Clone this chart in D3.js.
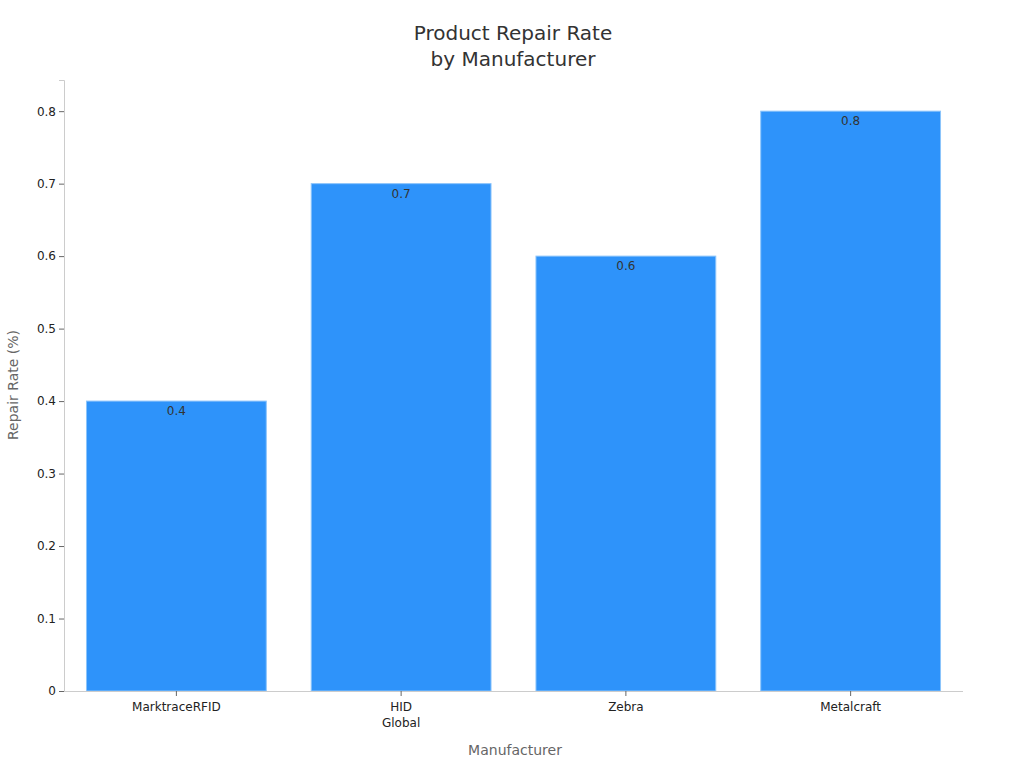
<!DOCTYPE html>
<html><head><meta charset="utf-8">
<script src="https://cdn.jsdelivr.net/npm/d3@7"></script>
<style>body{margin:0;background:#fff}text{font-family:"DejaVu Sans",sans-serif}</style>
</head><body><svg id="chart" width="1024" height="768"></svg>
<script>
const categories = ["MarktraceRFID", "HID\nGlobal", "Zebra", "Metalcraft"];
const repairRates = [0.4, 0.7, 0.6, 0.8];
const yTicks = [0, 0.1, 0.2, 0.3, 0.4, 0.5, 0.6, 0.7, 0.8];

const svg = d3.select("#chart");
const mLeft = 64, mRight = 963, mTop = 80, mBottom = 691;

const x = d3.scaleBand().domain(categories).range([mLeft, mRight]).paddingInner(0.2).paddingOuter(0.1);
const y = d3.scaleLinear().domain([0, 0.843]).range([mBottom, mTop]);

svg.selectAll("rect.bar").data(repairRates).enter().append("rect")
  .attr("class", "bar")
  .attr("x", (d, i) => x(categories[i]))
  .attr("width", x.bandwidth())
  .attr("y", d => y(d))
  .attr("height", d => mBottom - y(d))
  .attr("fill", "#2e93fa")
  .attr("stroke", "#8cc4fb").attr("stroke-width", 1);

svg.selectAll("text.val").data(repairRates).enter().append("text")
  .attr("class", "val")
  .attr("x", (d, i) => x(categories[i]) + x.bandwidth() / 2)
  .attr("y", d => y(d) + 14)
  .attr("text-anchor", "middle").attr("font-size", 12).attr("fill", "#333")
  .text(d => d);

const yAxis = svg.append("g").attr("transform", `translate(${mLeft},0)`)
  .call(d3.axisLeft(y).tickValues(yTicks).tickFormat(d => d === 0 ? "0" : d3.format(".1f")(d)).tickSize(5));
yAxis.select(".domain").attr("stroke", "#ccc");
yAxis.selectAll(".tick line").attr("stroke", "#666");
yAxis.selectAll("text").attr("font-size", 12).attr("fill", "#222").style("font-family", "DejaVu Sans");

const xAxis = svg.append("g").attr("transform", `translate(0,${mBottom})`)
  .call(d3.axisBottom(x).tickSize(5).tickFormat(""));
xAxis.select(".domain").attr("stroke", "#ccc").attr("d", `M${mLeft},0.5H${mRight}`);
xAxis.selectAll(".tick line").attr("stroke", "#666");
xAxis.selectAll(".tick").each(function(d) {
  const t = d3.select(this).append("text").attr("fill", "#222").attr("font-size", 12)
    .attr("text-anchor", "middle").attr("y", 20);
  d.split("\n").forEach((s, i) => t.append("tspan").attr("x", 0).attr("dy", i ? 16 : 0).text(s));
});

svg.append("text").attr("x", 513).attr("y", 40).attr("text-anchor", "middle")
  .attr("font-size", 20).attr("fill", "#333").text("Product Repair Rate");
svg.append("text").attr("x", 513).attr("y", 66).attr("text-anchor", "middle")
  .attr("font-size", 20).attr("fill", "#333").text("by Manufacturer");
svg.append("text").attr("x", 515).attr("y", 755).attr("text-anchor", "middle")
  .attr("font-size", 14).attr("fill", "#666").text("Manufacturer");
svg.append("text").attr("transform", "translate(18,385) rotate(-90)").attr("text-anchor", "middle")
  .attr("font-size", 14).attr("fill", "#666").text("Repair Rate (%)");
</script></body></html>
